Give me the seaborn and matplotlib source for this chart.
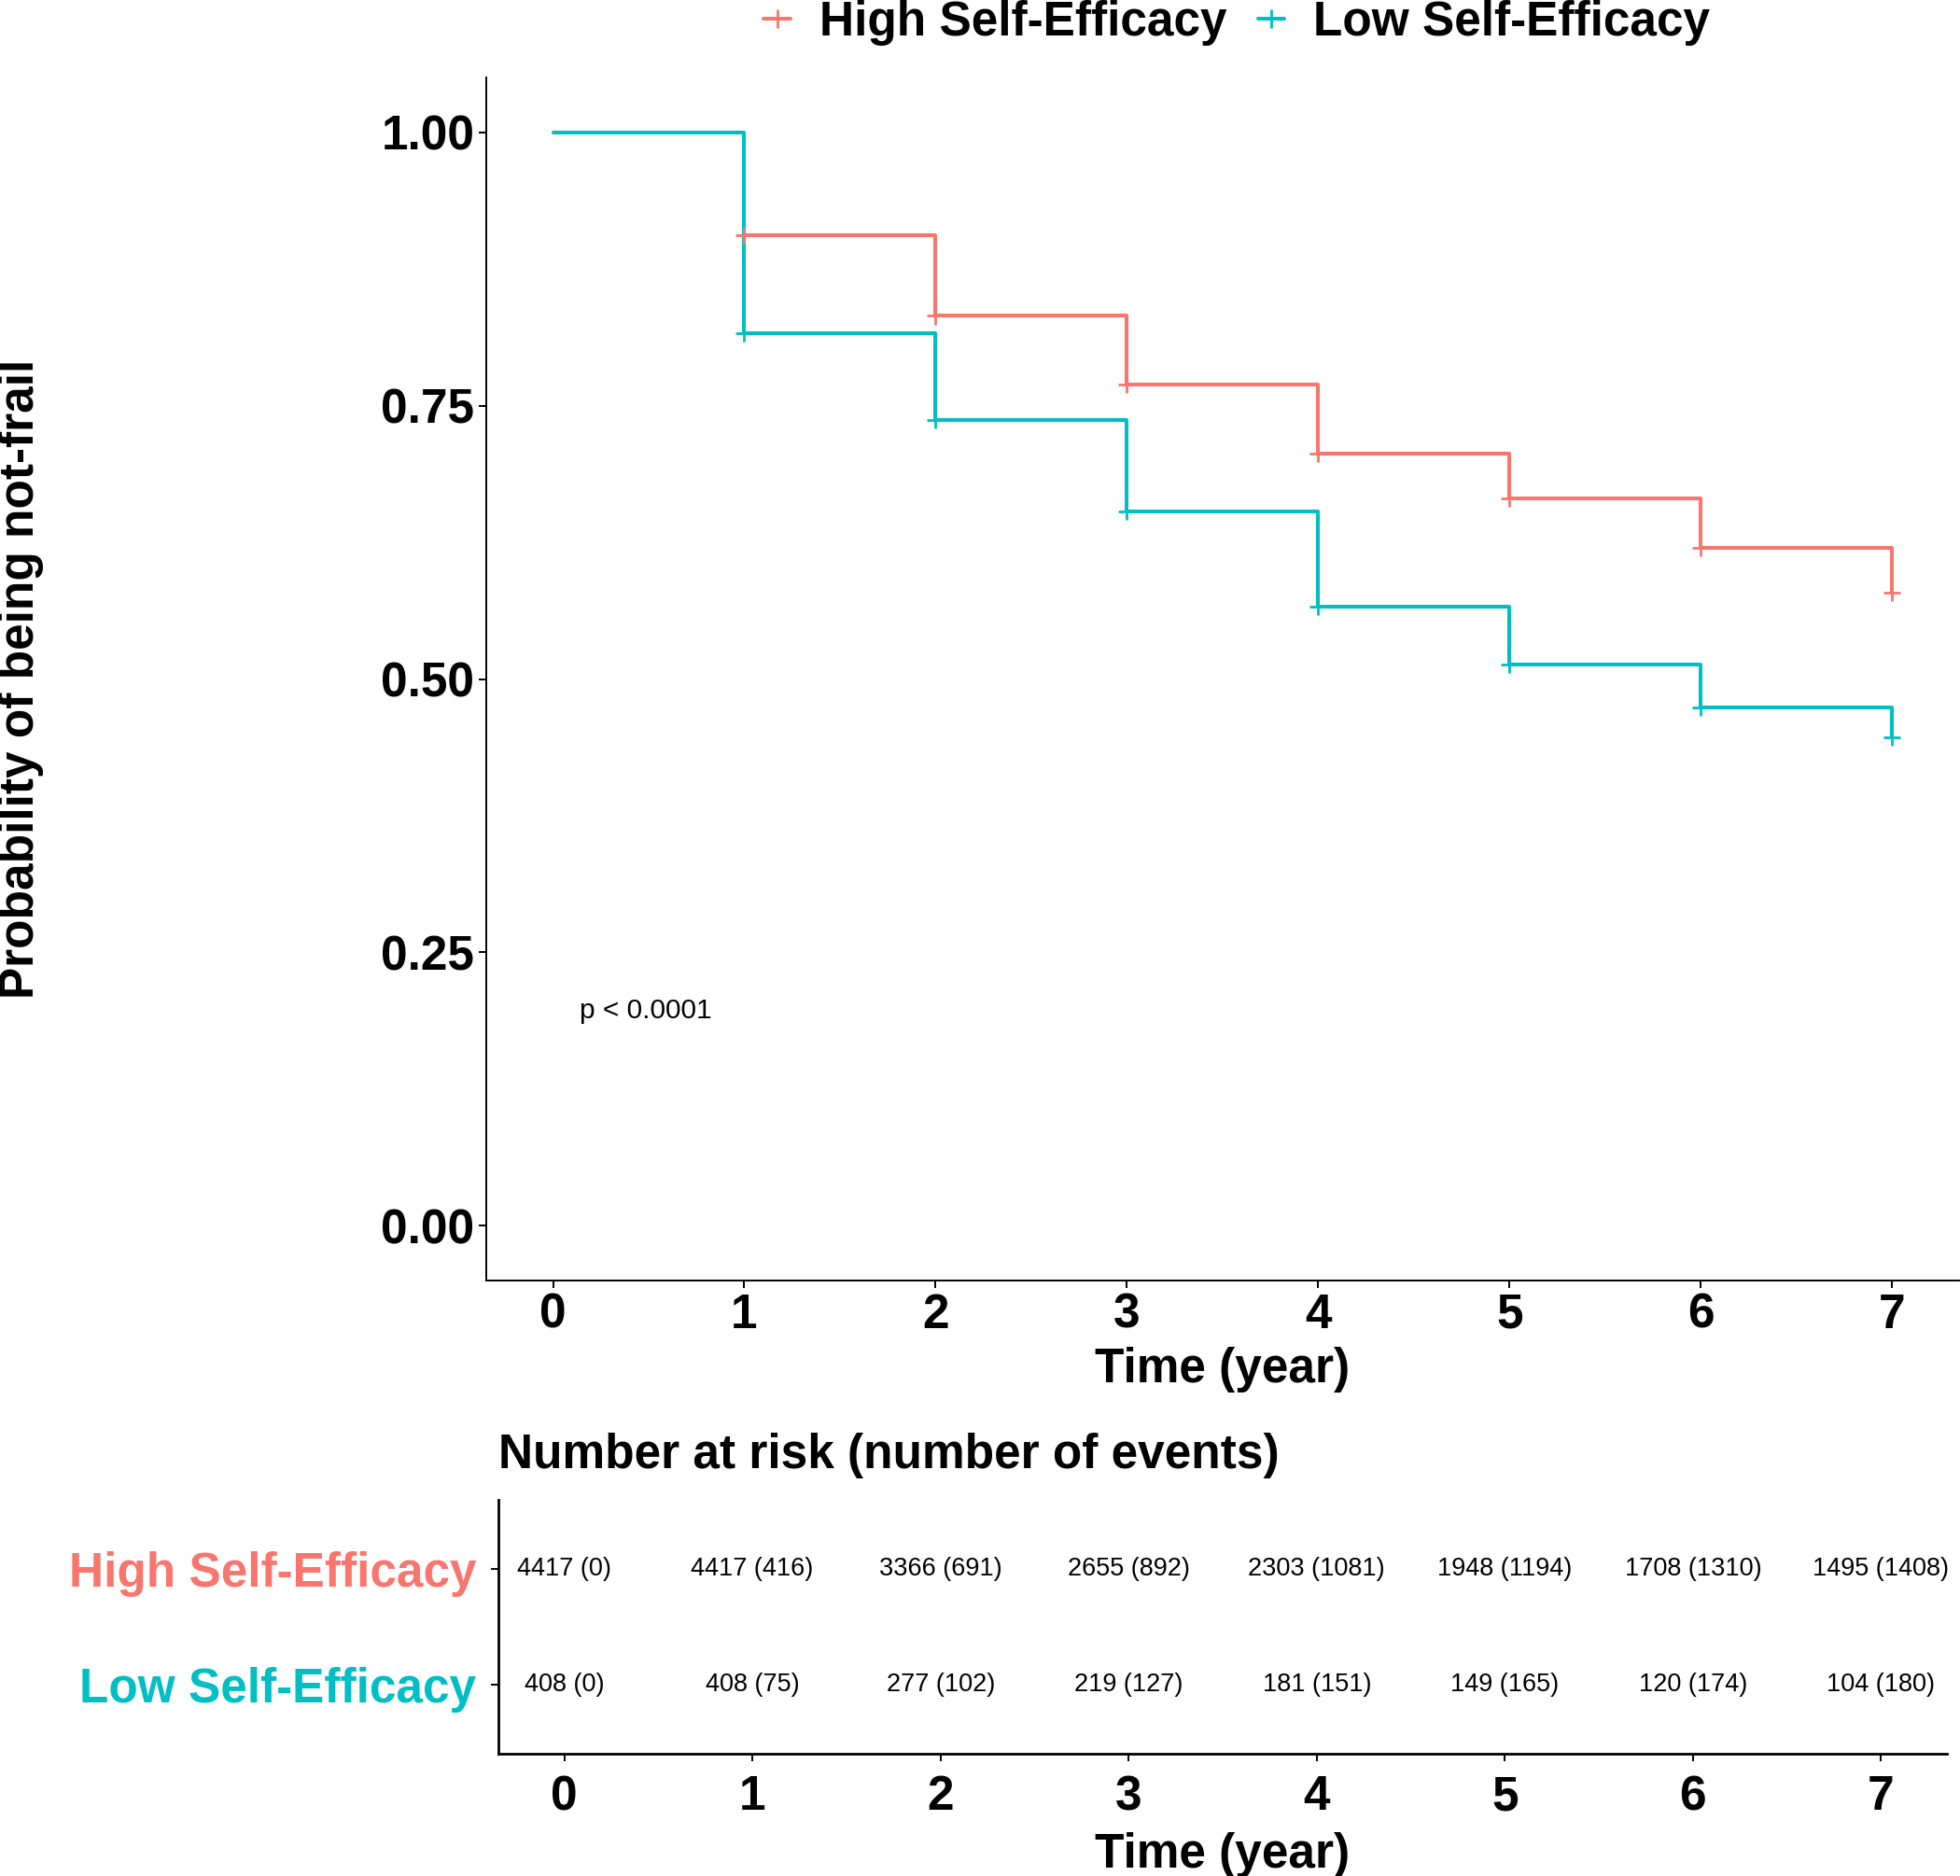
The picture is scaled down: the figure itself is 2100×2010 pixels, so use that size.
import matplotlib
matplotlib.use("Agg")
import matplotlib.pyplot as plt
from matplotlib.lines import Line2D
import pandas as pd
import seaborn as sns

# data
groups = ["High Self-Efficacy", "Low Self-Efficacy"]
colors = ["#F8766D", "#00BFC4"]
times = [0, 1, 2, 3, 4, 5, 6, 7]
surv_high = [1.000, 0.906, 0.832, 0.769, 0.706, 0.665, 0.620, 0.579]
surv_low = [1.000, 0.816, 0.737, 0.653, 0.566, 0.513, 0.474, 0.447]
risk_high = ["4417 (0)", "4417 (416)", "3366 (691)", "2655 (892)",
             "2303 (1081)", "1948 (1194)", "1708 (1310)", "1495 (1408)"]
risk_low = ["408 (0)", "408 (75)", "277 (102)", "219 (127)",
            "181 (151)", "149 (165)", "120 (174)", "104 (180)"]
y_ticks = [0.0, 0.25, 0.5, 0.75, 1.0]
y_ticklabels = ["0.00", "0.25", "0.50", "0.75", "1.00"]

sns.set_style("ticks")
plt.rcParams["font.family"] = ["Liberation Sans", "DejaVu Sans"]
plt.rcParams.update({"text.color": "black", "axes.labelcolor": "black",
                     "xtick.color": "black", "ytick.color": "black"})

df = pd.DataFrame({
    "time": times * 2,
    "surv": surv_high + surv_low,
    "group": [g for g in groups for _ in times],
})
censor = df[df["time"] > 0]

BIG = 37
fig = plt.figure(figsize=(21, 20.1), dpi=100)

# 1. survival curves
ax = fig.add_axes([0.248, 0.3174, 0.7515, 0.6413])
sns.lineplot(data=df, x="time", y="surv", hue="group", hue_order=groups,
             palette=colors, drawstyle="steps-post", linewidth=2.9,
             estimator=None, legend=False, ax=ax)
sns.scatterplot(data=censor, x="time", y="surv", hue="group", hue_order=groups,
                palette=colors, marker="+", s=170, linewidth=2.0,
                legend=False, ax=ax, zorder=3)
ax.set_xlim(-0.35, 7.35)
ax.set_ylim(-0.05, 1.05)
ax.set_xticks(times)
ax.set_xticklabels([str(t) for t in times], fontsize=BIG, fontweight="bold")
ax.set_yticks(y_ticks)
ax.set_yticklabels(y_ticklabels, fontsize=BIG, fontweight="bold")
ax.set_xlabel("Time (year)", fontsize=BIG, fontweight="bold", labelpad=7)
ax.set_ylabel("Probability of being not-frail", fontsize=BIG, fontweight="bold")
ax.yaxis.set_label_coords(-0.300, 0.5)
ax.tick_params(length=6, width=1.4, color="black", pad=3)
for s in ["left", "bottom"]:
    ax.spines[s].set_linewidth(1.4)
    ax.spines[s].set_color("black")
sns.despine(ax=ax)
ax.text(0.14, 0.197, "p < 0.0001", fontsize=21.5, ha="left", va="center")

handles = [Line2D([], [], color=c, marker="+", markersize=15,
                  markeredgewidth=2.0, linewidth=2.9) for c in colors]
fig.legend(handles, groups, loc="center", bbox_to_anchor=(0.631, 0.988),
           ncol=2, frameon=False, prop={"size": BIG, "weight": "bold"},
           handlelength=0.55, handletextpad=0.6, columnspacing=0.65,
           borderpad=0, borderaxespad=0)

# 2. number at risk table
ax2 = fig.add_axes([0.2543, 0.0652, 0.739, 0.1353])
ax2.set_xlim(-0.35, 7.35)
ax2.set_ylim(0.4, 2.6)
for t, hi, lo in zip(times, risk_high, risk_low):
    ax2.text(t, 2, hi, fontsize=19.5, ha="center", va="center")
    ax2.text(t, 1, lo, fontsize=19.5, ha="center", va="center")
ax2.set_xticks(times)
ax2.set_xticklabels([str(t) for t in times], fontsize=BIG, fontweight="bold")
ax2.set_yticks([2, 1])
ax2.set_yticklabels(groups, fontsize=BIG, fontweight="bold")
for lbl, c in zip(ax2.get_yticklabels(), colors):
    lbl.set_color(c)
ax2.set_xlabel("Time (year)", fontsize=BIG, fontweight="bold", labelpad=9)
ax2.tick_params(length=6, width=1.4, color="black")
ax2.tick_params(axis="x", pad=10)
ax2.tick_params(axis="y", pad=11)
for s in ["left", "bottom"]:
    ax2.spines[s].set_linewidth(2.0)
    ax2.spines[s].set_color("black")
sns.despine(ax=ax2)
ax2.text(0.0, 1.175, "Number at risk (number of events)", transform=ax2.transAxes,
         fontsize=BIG, fontweight="bold", ha="left", va="center")

fig.savefig("out.png", dpi=100)
